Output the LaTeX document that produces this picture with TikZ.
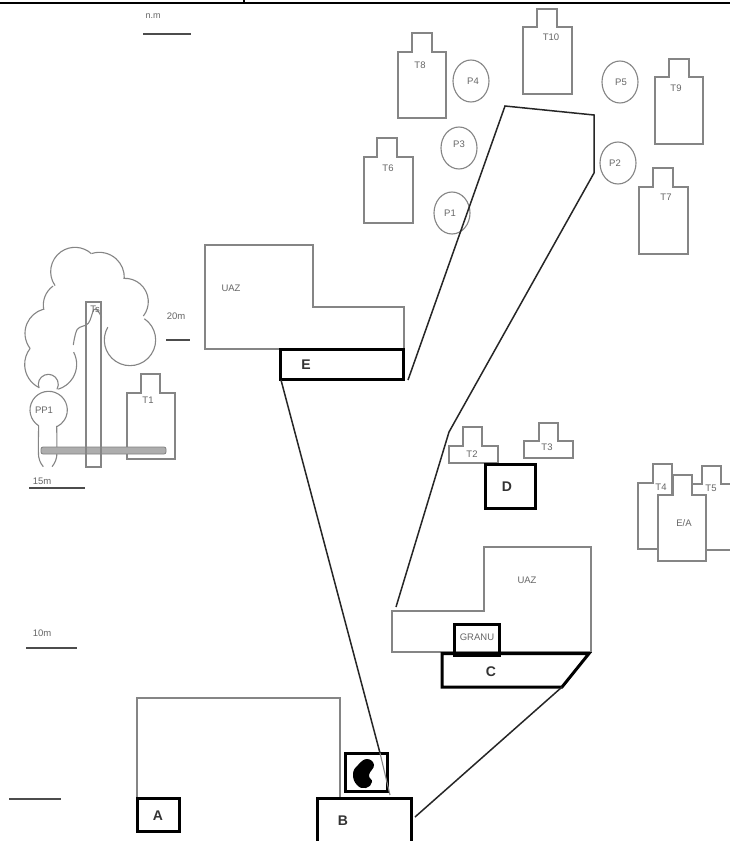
\documentclass[tikz,border=0pt]{standalone}
\usepackage{fontspec}
\setmainfont{Liberation Sans}
\tikzset{
  thinline/.style={draw=black!48,line width=1.1pt,line join=miter},
  thickbox/.style={draw=black,line width=3pt,line join=miter,outer sep=0pt,inner sep=0pt},
  road/.style={draw=black!85,line width=1.5pt,line join=miter},
  lab/.style={font=\fontsize{9.5}{10}\selectfont,text=black!60,inner sep=0pt},
  biglab/.style={font=\fontsize{14}{15}\selectfont\bfseries,text=black!80,inner sep=0pt},
  scaleline/.style={draw=black!70,line width=1.8pt}
}
% tank: left, right, bodytop, bottom, neck left, neck right, neck top
\newcommand{\tankshape}[7]{\draw[thinline,fill=white] (#1,#3) -- (#5,#3) -- (#5,#7) -- (#6,#7) -- (#6,#3) -- (#2,#3) -- (#2,#4) -- (#1,#4) -- cycle;}
% arc by centre, radius, start and end angle
\newcommand{\lobearc}[5]{\draw[thinline] ([shift={(#4:#3)}]#1,#2) arc [start angle=#4,end angle=#5,radius=#3];}
\begin{document}
\begin{tikzpicture}[x=1pt,y=-1pt]
\useasboundingbox (0,0) rectangle (730,841);
\fill[white] (0,0) rectangle (730,841);
% top rule
\draw[black,line width=2pt] (0,2.7) -- (730,2.7);
\draw[black,line width=1.2pt] (244,0) -- (244,3);
% tanks upper group
\tankshape{398}{446}{52}{118}{412}{432}{33}
\tankshape{523}{572}{27}{94}{537}{557}{9}
\tankshape{655}{703}{77}{144}{669}{689}{59}
\tankshape{364}{413}{157}{223}{377}{397}{138}
\tankshape{639}{688}{187}{254}{653}{673}{168}
\node[lab] (t8) at (420,65) {T8};
\node[lab] (t10) at (551,37) {T10};
\node[lab] (t9) at (676,88) {T9};
\node[lab] (t6) at (388,168) {T6};
\node[lab] (t7) at (666,197) {T7};
% ponds
\foreach \cx/\cy in {471/81,620/82,459/148,618/163,452/213}{
  \draw[thinline] (\cx,\cy) ellipse [x radius=18,y radius=21];
}
\node[lab] (p4) at (473,81) {P4};
\node[lab] (p5) at (621,82) {P5};
\node[lab] (p3) at (459,144) {P3};
\node[lab] (p2) at (615,163) {P2};
\node[lab] (p1) at (450,213) {P1};
% UAZ buildings
\draw[thinline] (404,349) -- (404,307) -- (313,307) -- (313,245) -- (205,245) -- (205,349) -- cycle;
\node[lab] (uaz1) at (231,288) {UAZ};
\draw[thinline] (484,611) -- (484,547) -- (591,547) -- (591,652) -- (392,652) -- (392,611) -- cycle;
\node[lab] (uaz2) at (527,580) {UAZ};
\draw[thinline] (137,798) -- (137,698) -- (340,698) -- (340,798);
% left cluster (coordinates in 3x crop units)
\begin{scope}[shift={(0,230)},x=0.3333pt,y=-0.3333pt]
\lobearc{152}{403}{78}{117}{218}
\lobearc{152}{403}{78}{-28}{73}
\lobearc{150}{310}{75}{143}{254}
\lobearc{200}{225}{70}{168}{234}
\lobearc{225}{125}{73}{145}{312}
\lobearc{298}{142}{75}{252}{362}
\lobearc{375}{215}{70}{266}{398}
\lobearc{390}{330}{77}{-56}{210}
\draw[thinline] plot[smooth,tension=0.6] coordinates {(305,262) (295,245) (282,238) (265,280) (232,298) (220,345)};
% PP1
\lobearc{146}{540}{56}{122}{424}
\lobearc{145}{463}{30}{158}{390}
\draw[thinline] plot[smooth,tension=0.5] coordinates {(116,588) (116,680) (130,710)};
\draw[thinline] plot[smooth,tension=0.5] coordinates {(170,588) (170,680) (156,710)};
\end{scope}
\tankshape{127}{175}{393}{459}{141}{160}{374}
\draw[black!50,line width=0.8pt,fill=black!32,rounded corners=2pt] (41,447) rectangle (166,454);
\draw[thinline] (86,302) rectangle (101,467);
\node[lab] (t1) at (148,400) {T1};
\node[lab] (ts) at (95,309) {Ts};
\node[lab] (pp1) at (44,410) {PP1};
% middle tanks
\tankshape{449}{498}{446}{463}{463}{482}{427}
\tankshape{524}{573}{441}{458}{539}{558}{423}
\node[lab] (t2) at (472,454) {T2};
\node[lab] (t3) at (547,447) {T3};
% right group
\tankshape{638}{687}{483}{549}{653}{672}{464}
\tankshape{691}{740}{484}{550}{702}{721}{466}
\tankshape{658}{706}{495}{561}{673}{692}{475}
\draw[thinline] (672,464) -- (672,495);
\node[lab] (t4) at (661,487) {T4};
\node[lab] (t5) at (711,488) {T5};
\node[lab] (ea) at (684,523) {E/A};
% thick labelled boxes
\node[thickbox,minimum width=123pt,minimum height=30pt] (E) at (342,364.5) {};
\node[biglab] (El) at (306,365) {E};
\node[thickbox,minimum width=50pt,minimum height=44pt] (D) at (510.5,486.5) {};
\node[biglab] (Dl) at (507,487) {D};
\node[thickbox,minimum width=42pt,minimum height=33pt] (A) at (158.5,815) {};
\node[biglab] (Al) at (158,816) {A};
\node[thickbox,minimum width=94pt,minimum height=53pt] (B) at (364.5,825) {};
\node[biglab] (Bl) at (343,821) {B};
\node[thickbox,minimum width=42pt,minimum height=38.5pt] (blobbox) at (366.5,772.7) {};
\fill[black] plot[smooth cycle,tension=0.8] coordinates {(367,759) (374,765) (369,775) (372,782) (366,788) (357,785) (353,774) (358,765)};
% GRANU and C
\node[thickbox,minimum width=45pt,minimum height=30.5pt] (gr) at (477,640) {};
\node[lab,font=\fontsize{9.5}{10}\selectfont] (granu) at (477,637) {GRANU};
\draw[thickbox] (442,653.5) -- (589,653.5) -- (562,687) -- (442,687) -- cycle;
\node[biglab] (Cl) at (491,672) {C};
% pipelines
\coordinate (n1) at (505,106);
\coordinate (n2) at (594,115);
\coordinate (n3) at (594,173);
\coordinate (n4) at (449,432);
\coordinate (n5) at (396,607);
\coordinate (n6) at (408,380);
\coordinate (n7) at (281,380);
\coordinate (n8a) at (380,753);
\coordinate (n8) at (390,795);
\coordinate (n9) at (562,687);
\coordinate (n10) at (415,817);
\draw[road] (n6) -- (n1) -- (n2) -- (n3) -- (n4) -- (n5);
\draw[road] (n7) -- (n8a);
\draw[thinline] (n8a) -- (n8);
\draw[road] (n9) -- (n10);
% scale marks
\node[lab,font=\fontsize{9}{10}\selectfont] (s0) at (153,16) {n.m};
\draw[scaleline] (143,34) -- (191,34);
\node[lab] (s20) at (176,316) {20m};
\draw[scaleline] (166,340) -- (190,340);
\node[lab] (s15) at (42,481) {15m};
\draw[scaleline] (29,488) -- (85,488);
\node[lab] (s10) at (42,633) {10m};
\draw[scaleline] (26,648) -- (77,648);
\draw[scaleline] (9,799) -- (61,799);
\end{tikzpicture}
\end{document}
